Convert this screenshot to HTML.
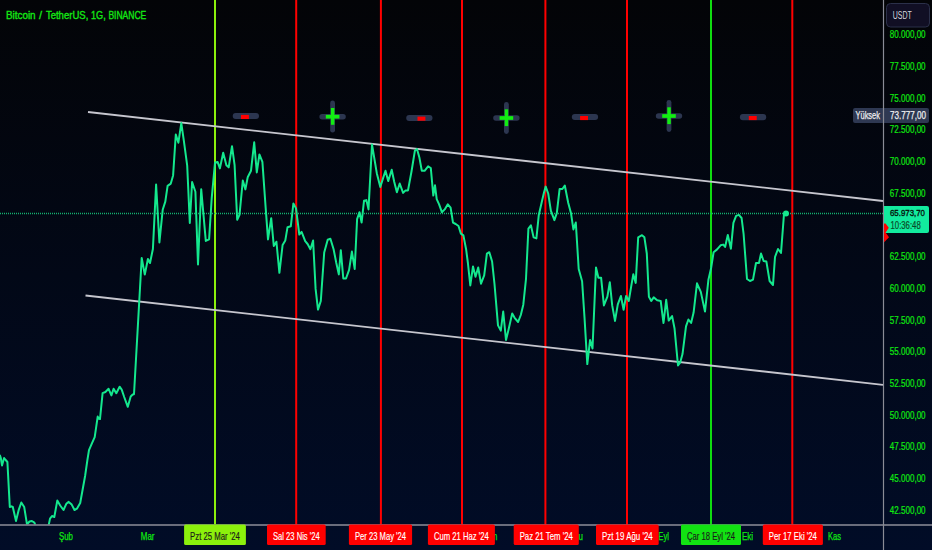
<!DOCTYPE html>
<html><head><meta charset="utf-8"><style>
html,body{margin:0;padding:0;background:#040407;}
body{width:932px;height:550px;overflow:hidden;}
svg{display:block;font-family:"Liberation Sans",sans-serif;}
</style></head><body>
<svg width="932" height="550" viewBox="0 0 932 550">
<defs>
<linearGradient id="bg" x1="0" y1="0" x2="0" y2="1">
<stop offset="0" stop-color="#030407"/>
<stop offset="1" stop-color="#010c27"/>
</linearGradient>
<clipPath id="pane"><rect x="0" y="0" width="883" height="524.5"/></clipPath>
</defs>
<rect x="0" y="0" width="932" height="550" fill="url(#bg)"/>
<g clip-path="url(#pane)"><line x1="215" y1="0" x2="215" y2="525" stroke="#8cf00c" stroke-width="2"/><line x1="296.2" y1="0" x2="296.2" y2="525" stroke="#ff0000" stroke-width="2"/><line x1="380.9" y1="0" x2="380.9" y2="525" stroke="#ff0000" stroke-width="2"/><line x1="462" y1="0" x2="462" y2="525" stroke="#ff0000" stroke-width="2"/><line x1="545.4" y1="0" x2="545.4" y2="525" stroke="#ff0000" stroke-width="2"/><line x1="627" y1="0" x2="627" y2="525" stroke="#ff0000" stroke-width="2"/><line x1="711" y1="0" x2="711" y2="525" stroke="#10dc10" stroke-width="2"/><line x1="792.3" y1="0" x2="792.3" y2="525" stroke="#ff0000" stroke-width="2"/><line x1="0" y1="213.5" x2="883" y2="213.5" stroke="#12b070" stroke-width="1.4" stroke-dasharray="1 1"/><line x1="88" y1="112" x2="883" y2="201" stroke="#c6c6ce" stroke-width="1.8"/><line x1="85.5" y1="295.5" x2="883" y2="384.8" stroke="#c6c6ce" stroke-width="1.8"/><polyline points="0,455.5 0.8,458 2,465.4 4.1,458 5.7,460 7.4,462 9.8,507 11.5,506.3 12.8,507 16,521 18.8,509.6 21.3,502.5 24.2,507 27,524.3 29.5,521.5 31.9,521 34.4,522.6 36,527 40,534 45,534 48.3,527 50,518.6 52,516 54.3,517 57.3,500.6 60.2,505.5 63.5,510 66.3,503.8 68.7,501.9 71.7,504.6 74.5,510 76.9,508.7 80.2,503 85.1,476 87.4,460 89,450.2 91.8,443.6 94.7,437.1 97.7,416.6 98.8,418.8 100,419 102.6,393.2 105.4,392 108.6,388.8 111.4,395.4 113.6,388.8 116.3,393.2 119.6,386.7 121.7,389.6 124.2,397 127.8,406.8 130.7,396.5 132.7,394.5 134,394.2 141.7,258 144.8,274.6 147.9,259 150,263 152.9,249 156.1,184.6 159.4,242.5 162.7,209.8 165.3,201.6 167.6,185.9 170.8,183.6 173.1,175.4 175.8,134.5 178.4,142.7 181.3,123.1 183.9,141.1 187.2,165.6 189.8,222.9 192.1,182 195.4,191.8 198,264.5 201.2,189.2 205.8,240.9 209.1,239.3 211.7,198.4 215,162.5 217.6,161.9 219.9,168.4 223.2,152.7 226.4,165.2 228.7,167.4 232,146.2 234.6,165.2 237.2,219.8 239.5,214.9 242.8,180.5 245.4,189.4 247.7,177.3 251,170.7 254.2,142.3 256.8,172.4 259.4,154.4 262.4,161.9 265.7,208.4 268,239.4 271.2,218.2 273.8,246 276.4,241.7 279.4,272.8 282.6,245 285.3,240.4 287.5,227.3 290.8,226.3 293.4,203.4 296,208.4 299.3,234.5 301.6,231.9 305.2,241.2 307.6,244 310.4,249.2 313.1,240.5 315.6,288.9 318,309.6 320.8,301 324.2,252.6 327.7,239.8 330.4,238.8 333.6,249.2 336.3,263 338.8,274.4 340.8,250.2 343.3,278.5 346,278.5 349.1,269.9 351.9,251.6 354.7,268.9 357.1,219.1 359.5,212.2 361.6,222.6 364,200.8 366.4,200.1 368.5,209.4 372,144.5 376.8,173.2 380.3,187 383,178.4 385.5,170.8 388.2,181.1 391.7,169.7 394.2,181.8 396.9,192.2 399.7,183.5 403.1,192.9 405.6,190.4 408,190.4 411.5,171.5 414.9,150.7 417,149 419.4,157.6 421.8,170.8 424.6,170.8 428.1,166.3 430.8,168 433.3,195.6 435,185.3 436.7,199.1 439.1,204.3 441.9,212.2 444.7,209.4 447.8,204.3 450.6,207.7 453,222.6 455.7,224 458.5,226 460.9,233.6 463.4,235.4 466.1,249.2 467.9,263 470.3,285.4 473,266.4 475.5,276.8 478.2,267.5 481,283.7 484.2,275.4 486.9,253.6 489.3,252.2 492.1,261.5 494.5,284 498,325.4 500.8,330.6 503.2,311.6 506,340 508.7,328.9 512.2,313.4 514.6,317.8 518.1,322 520.8,315 523.3,304.7 526,278.8 528.4,228.7 530.9,225.3 533.6,237.4 536.4,238.4 538.8,214.9 541.6,202.8 544,192.5 545.7,186.6 548.2,193.5 550.9,210.8 554.4,220.1 556.8,213.2 559.6,189 562.4,189 564.8,185.5 568.2,202.8 571,213.2 573.4,229.4 575.8,222.5 578.7,269.1 582.1,281.2 584.5,317.4 587.3,364.1 590.1,339.9 592.5,348.5 596,267.4 598.4,277.7 601.1,277.7 603.9,305.4 607.4,296.7 609.8,282.2 612.2,305.4 615,320.9 617.8,304.3 620.9,296 623.6,309.8 626.1,296 628.8,300.9 631.2,286.4 633.3,274.3 635.7,282.9 638.2,237.3 642,235.2 644.4,237.3 646.8,253.5 648.9,296.7 651.3,300.9 653.7,297.4 657.2,300.2 660.7,300.9 661.7,309.2 663.5,323 666.2,299.8 668.7,320.6 672.1,316.1 674.5,328.2 678,365.5 680.1,362.7 682.5,354.1 686,326.4 688.4,319.5 691.1,323 693.6,312.6 697,283.3 700.8,291.9 705,311.6 708.4,279.8 711.2,267.7 713.6,252.2 717.1,249.4 720.6,245.3 723.3,244.6 725.1,247 727.8,234.9 730.9,248.7 733.4,222.8 736.1,215.9 738.9,214.9 741.6,218 743.6,234 747,279 750,281 753,279.6 756,263 759,263 761,253.6 763.6,261 766.4,261.6 769.6,281 773,285 775,257 778,249 781,253 784,214 786,213.5" fill="none" stroke="#14e88e" stroke-width="2" stroke-linejoin="round" stroke-linecap="round"/><circle cx="786" cy="213.5" r="3" fill="#14e88e"/><rect x="232.7" y="112.9" width="26.3" height="6.1" rx="3" fill="#2c3650"/><rect x="241" y="114.9" width="7.9" height="4.1" fill="#ff0000"/><rect x="330.20000000000005" y="100.6" width="4.8" height="32" rx="2.4" fill="#2c3650"/><rect x="319.40000000000003" y="114.0" width="26.4" height="5.4" rx="2.7" fill="#2c3650"/><rect x="330.90000000000003" y="108.0" width="3.5" height="16.8" fill="#12ee12"/><rect x="325.8" y="114.85000000000001" width="13.6" height="3.7" fill="#12ee12"/><rect x="406.2" y="115.0" width="26.3" height="6.1" rx="3" fill="#2c3650"/><rect x="417.5" y="116.6" width="7.9" height="4.1" fill="#ff0000"/><rect x="504.0" y="101.9" width="4.8" height="32" rx="2.4" fill="#2c3650"/><rect x="493.2" y="115.3" width="26.4" height="5.4" rx="2.7" fill="#2c3650"/><rect x="504.7" y="109.3" width="3.5" height="16.8" fill="#12ee12"/><rect x="499.59999999999997" y="116.15" width="13.6" height="3.7" fill="#12ee12"/><rect x="571.8" y="114.0" width="26.3" height="6.1" rx="3" fill="#2c3650"/><rect x="580.1" y="116.0" width="7.9" height="4.1" fill="#ff0000"/><rect x="666.6" y="99.9" width="4.8" height="32" rx="2.4" fill="#2c3650"/><rect x="655.8" y="113.3" width="26.4" height="5.4" rx="2.7" fill="#2c3650"/><rect x="667.3" y="107.3" width="3.5" height="16.8" fill="#12ee12"/><rect x="662.2" y="114.15" width="13.6" height="3.7" fill="#12ee12"/><rect x="739.9" y="114.1" width="26.3" height="6.1" rx="3" fill="#2c3650"/><rect x="748.8" y="116.0" width="7.9" height="4.1" fill="#ff0000"/></g><line x1="0" y1="525" x2="932" y2="525" stroke="#8e8e9a" stroke-width="1.3"/><line x1="883.5" y1="0" x2="883.5" y2="550" stroke="#8a8c96" stroke-width="1.2"/><text x="889.8" y="38.35" font-size="10.6" fill="#10ea10" stroke="#10ea10" stroke-width="0.2" textLength="35.8" lengthAdjust="spacingAndGlyphs">80.000,00</text><text x="889.8" y="70.05" font-size="10.6" fill="#10ea10" stroke="#10ea10" stroke-width="0.2" textLength="35.8" lengthAdjust="spacingAndGlyphs">77.500,00</text><text x="889.8" y="101.75" font-size="10.6" fill="#10ea10" stroke="#10ea10" stroke-width="0.2" textLength="35.8" lengthAdjust="spacingAndGlyphs">75.000,00</text><text x="889.8" y="133.45" font-size="10.6" fill="#10ea10" stroke="#10ea10" stroke-width="0.2" textLength="35.8" lengthAdjust="spacingAndGlyphs">72.500,00</text><text x="889.8" y="165.15" font-size="10.6" fill="#10ea10" stroke="#10ea10" stroke-width="0.2" textLength="35.8" lengthAdjust="spacingAndGlyphs">70.000,00</text><text x="889.8" y="196.85" font-size="10.6" fill="#10ea10" stroke="#10ea10" stroke-width="0.2" textLength="35.8" lengthAdjust="spacingAndGlyphs">67.500,00</text><text x="889.8" y="260.25" font-size="10.6" fill="#10ea10" stroke="#10ea10" stroke-width="0.2" textLength="35.8" lengthAdjust="spacingAndGlyphs">62.500,00</text><text x="889.8" y="291.95" font-size="10.6" fill="#10ea10" stroke="#10ea10" stroke-width="0.2" textLength="35.8" lengthAdjust="spacingAndGlyphs">60.000,00</text><text x="889.8" y="323.65" font-size="10.6" fill="#10ea10" stroke="#10ea10" stroke-width="0.2" textLength="35.8" lengthAdjust="spacingAndGlyphs">57.500,00</text><text x="889.8" y="355.35" font-size="10.6" fill="#10ea10" stroke="#10ea10" stroke-width="0.2" textLength="35.8" lengthAdjust="spacingAndGlyphs">55.000,00</text><text x="889.8" y="387.05" font-size="10.6" fill="#10ea10" stroke="#10ea10" stroke-width="0.2" textLength="35.8" lengthAdjust="spacingAndGlyphs">52.500,00</text><text x="889.8" y="418.75" font-size="10.6" fill="#10ea10" stroke="#10ea10" stroke-width="0.2" textLength="35.8" lengthAdjust="spacingAndGlyphs">50.000,00</text><text x="889.8" y="450.45" font-size="10.6" fill="#10ea10" stroke="#10ea10" stroke-width="0.2" textLength="35.8" lengthAdjust="spacingAndGlyphs">47.500,00</text><text x="889.8" y="482.15" font-size="10.6" fill="#10ea10" stroke="#10ea10" stroke-width="0.2" textLength="35.8" lengthAdjust="spacingAndGlyphs">45.000,00</text><text x="889.8" y="513.85" font-size="10.6" fill="#10ea10" stroke="#10ea10" stroke-width="0.2" textLength="35.8" lengthAdjust="spacingAndGlyphs">42.500,00</text><rect x="886.5" y="3.5" width="43" height="23.5" rx="4" fill="#110f24" stroke="#2b3049" stroke-width="1"/><text x="892.7" y="19.1" font-size="10" fill="#d6d6de" textLength="19.1" lengthAdjust="spacingAndGlyphs">USDT</text><rect x="853" y="108" width="76" height="15" rx="2" fill="#2e3852"/><line x1="883.5" y1="108" x2="883.5" y2="123" stroke="#8a8c96" stroke-width="1.2"/><text x="855.5" y="119.3" font-size="11" fill="#eeeef0" stroke="#eeeef0" stroke-width="0.25" textLength="24.5" lengthAdjust="spacingAndGlyphs">Yüksek</text><text x="890" y="119.3" font-size="11" fill="#eeeef0" stroke="#eeeef0" stroke-width="0.25" textLength="36" lengthAdjust="spacingAndGlyphs">73.777,00</text><path d="M884 206 H927 a2 2 0 0 1 2 2 V231 a2 2 0 0 1 -2 2 H884 Z" fill="#12eb9e"/><text x="890" y="216.3" font-size="9.6" fill="#06140c" stroke="#06140c" stroke-width="0.35" textLength="35" lengthAdjust="spacingAndGlyphs">65.973,70</text><text x="890.5" y="229" font-size="10.6" fill="#0a4826" stroke="#0a4826" stroke-width="0.2" textLength="30.2" lengthAdjust="spacingAndGlyphs">10:36:48</text><path d="M884 223.5 L885.6 223.5 L888.8 227.7 L885.6 232.6 L889 237.2 L884.1 242.2 Z" fill="#ff0000"/><text x="59" y="540" font-size="11" fill="#10ea10" stroke="#10ea10" stroke-width="0.25" textLength="14.0" lengthAdjust="spacingAndGlyphs">Şub</text><text x="140.8" y="540" font-size="11" fill="#10ea10" stroke="#10ea10" stroke-width="0.25" textLength="13.7" lengthAdjust="spacingAndGlyphs">Mar</text><text x="658.3" y="540" font-size="11" fill="#10ea10" stroke="#10ea10" stroke-width="0.25" textLength="10.7" lengthAdjust="spacingAndGlyphs">Eyl</text><text x="741.9" y="540" font-size="11" fill="#10ea10" stroke="#10ea10" stroke-width="0.25" textLength="11.1" lengthAdjust="spacingAndGlyphs">Eki</text><text x="828" y="540" font-size="11" fill="#10ea10" stroke="#10ea10" stroke-width="0.25" textLength="13.0" lengthAdjust="spacingAndGlyphs">Kas</text><text x="482.6" y="540" font-size="11" fill="#10ea10" stroke="#10ea10" stroke-width="0.25" textLength="14.8" lengthAdjust="spacingAndGlyphs">Tem</text><text x="569.0" y="540" font-size="11" fill="#10ea10" stroke="#10ea10" stroke-width="0.25" textLength="14.0" lengthAdjust="spacingAndGlyphs">Ağu</text><rect x="184.1" y="524.5" width="61.8" height="20.5" rx="1.5" fill="#8cf00c"/><text x="190.1" y="540" font-size="10.4" fill="#1a1a1a" stroke="#1a1a1a" stroke-width="0.15" textLength="49.8" lengthAdjust="spacingAndGlyphs">Pzt 25 Mar '24</text><rect x="267.0" y="524.5" width="58.7" height="20.5" rx="1.5" fill="#ff0000"/><text x="273.0" y="540" font-size="10.4" fill="#ffffff" stroke="#ffffff" stroke-width="0.15" textLength="46.7" lengthAdjust="spacingAndGlyphs">Sal 23 Nis '24</text><rect x="348.9" y="524.5" width="63.2" height="20.5" rx="1.5" fill="#ff0000"/><text x="354.9" y="540" font-size="10.4" fill="#ffffff" stroke="#ffffff" stroke-width="0.15" textLength="51.2" lengthAdjust="spacingAndGlyphs">Per 23 May '24</text><rect x="427.9" y="524.5" width="67.0" height="20.5" rx="1.5" fill="#ff0000"/><text x="433.9" y="540" font-size="10.4" fill="#ffffff" stroke="#ffffff" stroke-width="0.15" textLength="55.0" lengthAdjust="spacingAndGlyphs">Cum 21 Haz '24</text><rect x="513.7" y="524.5" width="65.1" height="20.5" rx="1.5" fill="#ff0000"/><text x="519.7" y="540" font-size="10.4" fill="#ffffff" stroke="#ffffff" stroke-width="0.15" textLength="53.1" lengthAdjust="spacingAndGlyphs">Paz 21 Tem '24</text><rect x="596.0" y="524.5" width="62.7" height="20.5" rx="1.5" fill="#ff0000"/><text x="602.0" y="540" font-size="10.4" fill="#ffffff" stroke="#ffffff" stroke-width="0.15" textLength="50.7" lengthAdjust="spacingAndGlyphs">Pzt 19 Ağu '24</text><rect x="681.0" y="524.5" width="60.0" height="20.5" rx="1.5" fill="#12e212"/><text x="687.0" y="540" font-size="10.4" fill="#1a1a1a" stroke="#1a1a1a" stroke-width="0.15" textLength="48.0" lengthAdjust="spacingAndGlyphs">Çar 18 Eyl '24</text><rect x="762.8" y="524.5" width="60.1" height="20.5" rx="1.5" fill="#ff0000"/><text x="768.8" y="540" font-size="10.4" fill="#ffffff" stroke="#ffffff" stroke-width="0.15" textLength="48.1" lengthAdjust="spacingAndGlyphs">Per 17 Eki '24</text><text x="5.9" y="18.8" font-size="11" fill="#14e814" stroke="#14e814" stroke-width="0.35" textLength="29.7" lengthAdjust="spacingAndGlyphs">Bitcoin</text><text x="45.9" y="18.8" font-size="11" fill="#14e814" stroke="#14e814" stroke-width="0.35" textLength="42.4" lengthAdjust="spacingAndGlyphs">TetherUS,</text><text x="91.0" y="18.8" font-size="11" fill="#14e814" stroke="#14e814" stroke-width="0.35" textLength="14.7" lengthAdjust="spacingAndGlyphs">1G,</text><text x="108.4" y="18.8" font-size="11" fill="#14e814" stroke="#14e814" stroke-width="0.35" textLength="37.9" lengthAdjust="spacingAndGlyphs">BINANCE</text><text x="39" y="18.8" font-size="11" fill="#14e814" stroke="#14e814" stroke-width="0.3">/</text></svg>
</body></html>
